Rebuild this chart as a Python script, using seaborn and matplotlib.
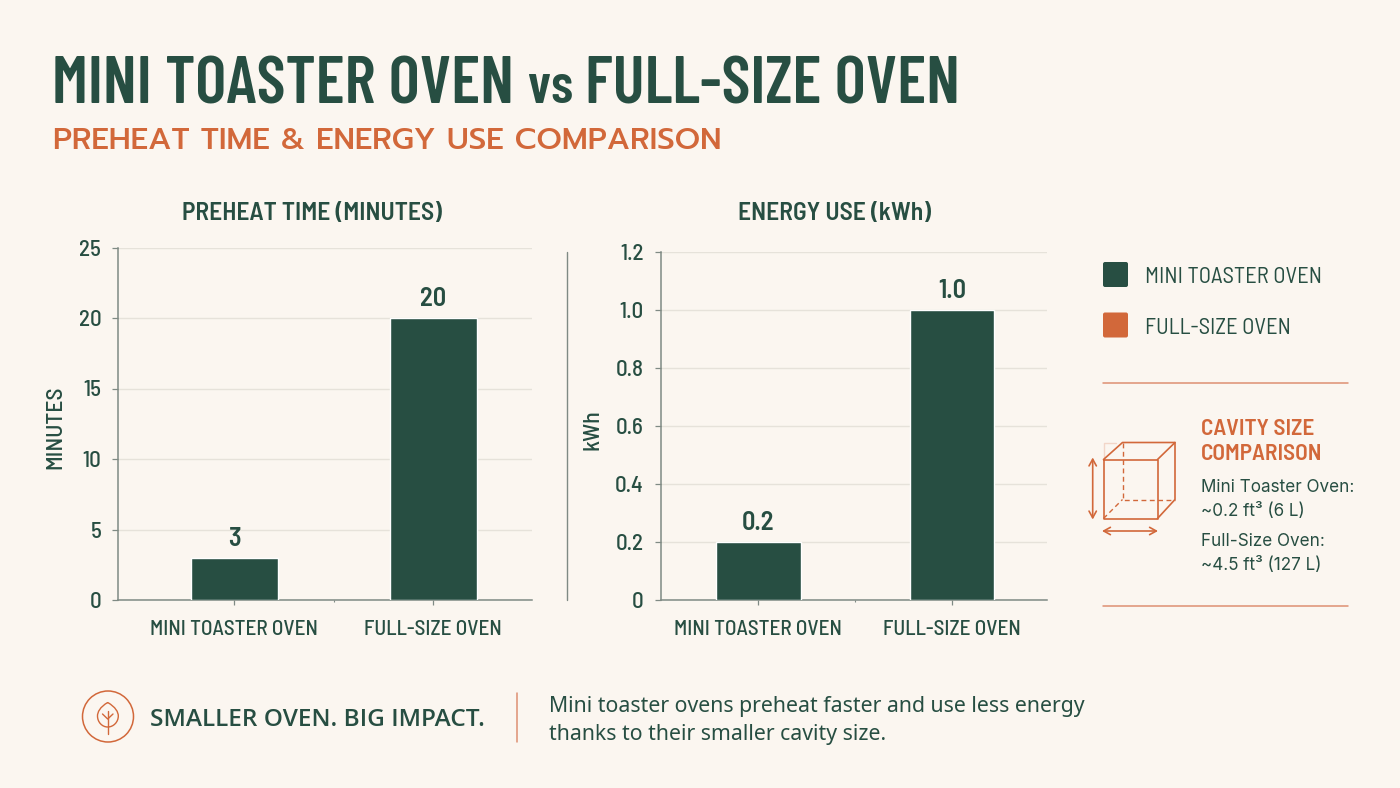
import numpy as np
import pandas as pd
import matplotlib
matplotlib.use("Agg")
import matplotlib.pyplot as plt
import seaborn as sns
from matplotlib.patches import Circle, FancyBboxPatch, PathPatch
from matplotlib.path import Path

# Chart data
categories = ["MINI TOASTER OVEN", "FULL-SIZE OVEN"]
preheat_minutes = [3, 20]
energy_kwh = [0.2, 1.0]
preheat_ticks = [0, 5, 10, 15, 20, 25]
energy_ticks = [0, 0.2, 0.4, 0.6, 0.8, 1.0, 1.2]
energy_tick_labels = ["0", "0.2", "0.4", "0.6", "0.8", "1.0", "1.2"]
preheat_bar_labels = ["3", "20"]
energy_bar_labels = ["0.2", "1.0"]

GREEN = "#274e42"
ORANGE = "#d2683a"
RULE = "#dd8f72"
BG = "#fbf6f0"
GRID = "#e6e2da"
AXIS = "#7f8a84"
DISPLAY = ["Barlow Condensed", "Roboto Condensed", "Roboto"]
NARROW = ["Barlow Semi Condensed", "Roboto Condensed", "Roboto"]
BODY = ["Noto Sans"]

W, H = 1400, 788
sns.set_theme(style="white")
plt.rcParams["font.family"] = NARROW + ["DejaVu Sans"]
fig = plt.figure(figsize=(W / 100, H / 100), dpi=100, facecolor=BG)


def px_axes(left, top, right, bottom):
    return fig.add_axes([left / W, 1 - bottom / H, (right - left) / W, (bottom - top) / H])


def bar_panel(box, values, bar_labels, ticks, tick_labels, xlim, ylabel, ylabel_x, ylabel_y):
    ax = px_axes(*box)
    ax.set_facecolor("none")
    frame = pd.DataFrame({"oven": categories, "value": values})
    sns.barplot(data=frame, x="oven", y="value", color=GREEN, saturation=1,
                width=0.437, ax=ax, zorder=3)
    ax.set_xlim(*xlim)
    ax.set_ylim(ticks[0], ticks[-1])
    ax.set_yticks(ticks, tick_labels)
    ax.set_xticks([0, 1], categories)
    ax.set_xticks([0.5], minor=True)
    ax.grid(axis="y", color=GRID, linewidth=1.0, zorder=0)
    ax.grid(axis="x", visible=False)
    sns.despine(ax=ax)
    for side in ("left", "bottom"):
        ax.spines[side].set_color(AXIS)
        ax.spines[side].set_linewidth(1.1)
    ax.tick_params(axis="y", length=4, width=0.9, color=AXIS, pad=8,
                   labelsize=16.5, labelcolor=GREEN, left=True)
    ax.tick_params(axis="x", length=3.5, width=0.9, color=AXIS, pad=11,
                   labelsize=15.3, labelcolor=GREEN, bottom=True)
    ax.tick_params(axis="x", which="minor", length=1.5, width=0.8, color=AXIS, bottom=True)
    for tick_label in ax.get_xticklabels() + ax.get_yticklabels():
        tick_label.set_fontweight(500)
    ax.set_xlabel("")
    ax.set_ylabel("")
    for container in ax.containers:
        ax.bar_label(container, labels=bar_labels, padding=5, fontsize=19,
                     color=GREEN, fontweight=600, family=NARROW)
    fig.text(ylabel_x / W, 1 - ylabel_y / H, ylabel, rotation=90, ha="center", va="center",
             fontsize=17, fontweight=500, color=GREEN)
    return ax


bar_panel((118, 247.5, 532, 600), preheat_minutes, preheat_bar_labels, preheat_ticks,
          [str(t) for t in preheat_ticks], (-0.583, 1.497), "MINUTES", 55, 427)
bar_panel((660.5, 252, 1047, 600), energy_kwh, energy_bar_labels, energy_ticks,
          energy_tick_labels, (-0.505, 1.49), "kWh", 592, 430)

# Page-level overlay in pixel coordinates for headings, legend and annotations
page = fig.add_axes([0, 0, 1, 1], facecolor="none")
page.set_xlim(0, W)
page.set_ylim(H, 0)
page.axis("off")


def label(x, y, text, size, color=GREEN, weight="normal", family=None, ha="left", va="center_baseline"):
    return page.text(x, y, text, fontsize=size, color=color, fontweight=weight,
                     family=family or NARROW, ha=ha, va=va)


# Headline
label(52, 80, "MINI TOASTER OVEN", 48, weight=600, family=DISPLAY)
label(528, 103, "vs", 40, weight=600, family=DISPLAY, va="baseline")
label(585, 80, "FULL-SIZE OVEN", 48, weight=600, family=DISPLAY)
label(53, 138, "PREHEAT TIME & ENERGY USE COMPARISON", 22.2, ORANGE, 500, ["Prompt", "Poppins", "Lato"])

# Panel headings
label(312, 211, "PREHEAT TIME (MINUTES)", 18.4, weight=600, ha="center")
label(834, 211, "ENERGY USE (kWh)", 18.4, weight=600, ha="center")

# Divider between the two panels
page.plot([566.5, 566.5], [252, 600], color=AXIS, lw=1.0)

# Legend
for top, color, name in [(262, GREEN, categories[0]), (312.5, ORANGE, categories[1])]:
    page.add_patch(FancyBboxPatch((1104, top + 1), 23, 23, boxstyle="round,pad=1,rounding_size=2",
                                  fc=color, ec="none"))
    label(1145, top + 13, name, 16.3)

# Rules around the cavity note
for y in (382.5, 605.5):
    page.plot([1103, 1348], [y, y], color=RULE, lw=1.1)

# Cavity cube
front = np.array([[1103.5, 459.5], [1157.5, 459.5], [1157.5, 518.5], [1103.5, 518.5], [1103.5, 459.5]])
page.plot(front[:, 0], front[:, 1], color=ORANGE, lw=1.2)
page.plot([1103.5, 1122.5, 1175, 1175, 1157.5], [459.5, 442.5, 442.5, 499.5, 518.5], color=ORANGE, lw=1.2)
page.plot([1157.5, 1175], [459.5, 442.5], color=ORANGE, lw=1.2)
page.plot([1122.5, 1122.5, 1175], [442.5, 499.5, 499.5], color=ORANGE, lw=1.0, ls=(0, (3.5, 2.5)))
page.plot([1103.5, 1122.5], [518.5, 499.5], color=ORANGE, lw=1.0, ls=(0, (3.5, 2.5)))
page.plot([1103.5, 1103.5, 1116], [459, 443, 443], color="#f2d6c8", lw=1.0, zorder=0)
arrow = dict(arrowstyle="<->,head_width=0.22,head_length=0.4", color=ORANGE, lw=1.2,
             shrinkA=0, shrinkB=0)
page.annotate("", xy=(1092.7, 457.5), xytext=(1092.7, 519.5), arrowprops=arrow)
page.annotate("", xy=(1102, 531), xytext=(1158, 531), arrowprops=arrow)

# Cavity note
label(1201, 427, "CAVITY SIZE", 16.8, ORANGE, 600)
label(1201, 452, "COMPARISON", 16.8, ORANGE, 600)
for y, text in [(485, "Mini Toaster Oven:"), (509, "~0.2 ft³ (6 L)"),
                (540, "Full-Size Oven:"), (564, "~4.5 ft³ (127 L)")]:
    label(1201, y, text, 12.3, family=["Inter", "Noto Sans"])

# Footer badge with a leaf
page.add_patch(Circle((108, 716.5), 25.5, fc="none", ec=ORANGE, lw=1.1))
leaf = Path([(107.7, 702.5), (100, 707), (97.5, 712), (97.5, 716), (97.5, 722), (102, 727), (107.7, 727),
             (113.5, 727), (118.3, 722), (118.3, 716), (118.3, 712), (115.5, 707), (107.7, 702.5)],
            [Path.MOVETO] + [Path.CURVE4] * 12)
page.add_patch(PathPatch(leaf, fc="none", ec=ORANGE, lw=1.0))
page.plot([107.7, 107.7], [711, 733.5], color=ORANGE, lw=1.0)
page.plot([102.5, 107.7, 113], [714, 719, 714], color=ORANGE, lw=1.0)

# Footer text
label(150, 717, "SMALLER OVEN. BIG IMPACT.", 17.6, weight=600, family=["Open Sans", "Noto Sans"])
page.plot([516.5, 516.5], [693, 742], color=RULE, lw=1.1)
label(549, 704, "Mini toaster ovens preheat faster and use less energy", 15.3, family=BODY)
label(549, 732, "thanks to their smaller cavity size.", 15.3, family=BODY)

fig.savefig("out.png", dpi=100, facecolor=BG)
